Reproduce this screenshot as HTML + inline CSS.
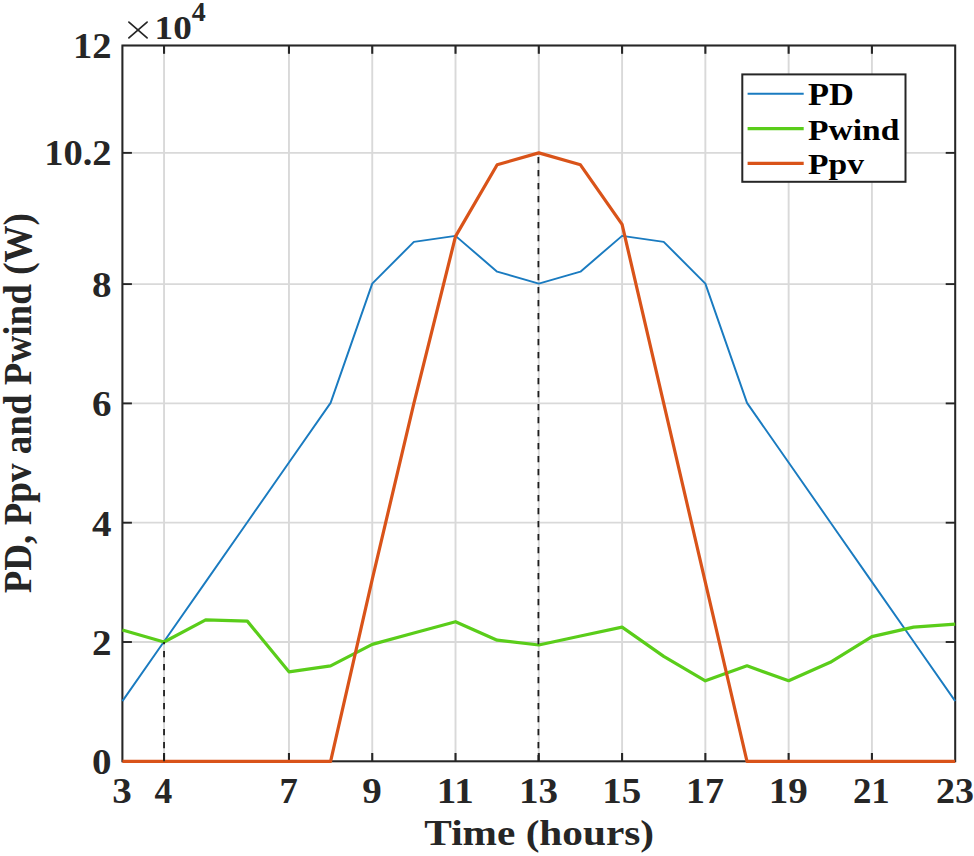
<!DOCTYPE html>
<html><head><meta charset="utf-8"><style>
html,body{margin:0;padding:0;background:#fff;}
body{width:974px;height:856px;position:relative;overflow:hidden;font-family:"Liberation Serif",serif;}
</style></head><body>
<svg width="974" height="856" viewBox="0 0 974 856" style="position:absolute;left:0;top:0">
<line x1="122.40" y1="45.5" x2="122.40" y2="761.3" stroke="#d9d9d9" stroke-width="1.9"/>
<line x1="164.04" y1="45.5" x2="164.04" y2="761.3" stroke="#d9d9d9" stroke-width="1.9"/>
<line x1="288.96" y1="45.5" x2="288.96" y2="761.3" stroke="#d9d9d9" stroke-width="1.9"/>
<line x1="372.24" y1="45.5" x2="372.24" y2="761.3" stroke="#d9d9d9" stroke-width="1.9"/>
<line x1="455.52" y1="45.5" x2="455.52" y2="761.3" stroke="#d9d9d9" stroke-width="1.9"/>
<line x1="538.80" y1="45.5" x2="538.80" y2="761.3" stroke="#d9d9d9" stroke-width="1.9"/>
<line x1="622.08" y1="45.5" x2="622.08" y2="761.3" stroke="#d9d9d9" stroke-width="1.9"/>
<line x1="705.36" y1="45.5" x2="705.36" y2="761.3" stroke="#d9d9d9" stroke-width="1.9"/>
<line x1="788.64" y1="45.5" x2="788.64" y2="761.3" stroke="#d9d9d9" stroke-width="1.9"/>
<line x1="871.92" y1="45.5" x2="871.92" y2="761.3" stroke="#d9d9d9" stroke-width="1.9"/>
<line x1="955.20" y1="45.5" x2="955.20" y2="761.3" stroke="#d9d9d9" stroke-width="1.9"/>
<line x1="122.4" y1="761.30" x2="955.2" y2="761.30" stroke="#d9d9d9" stroke-width="1.8"/>
<line x1="122.4" y1="642.00" x2="955.2" y2="642.00" stroke="#d9d9d9" stroke-width="1.8"/>
<line x1="122.4" y1="522.70" x2="955.2" y2="522.70" stroke="#d9d9d9" stroke-width="1.8"/>
<line x1="122.4" y1="403.40" x2="955.2" y2="403.40" stroke="#d9d9d9" stroke-width="1.8"/>
<line x1="122.4" y1="284.10" x2="955.2" y2="284.10" stroke="#d9d9d9" stroke-width="1.8"/>
<line x1="122.4" y1="152.87" x2="955.2" y2="152.87" stroke="#d9d9d9" stroke-width="1.8"/>
<line x1="122.4" y1="45.50" x2="955.2" y2="45.50" stroke="#d9d9d9" stroke-width="1.8"/>
<line x1="164.04" y1="761.3" x2="164.04" y2="753.0" stroke="#262626" stroke-width="2.1"/>
<line x1="164.04" y1="45.5" x2="164.04" y2="53.8" stroke="#262626" stroke-width="2.1"/>
<line x1="288.96" y1="761.3" x2="288.96" y2="753.0" stroke="#262626" stroke-width="2.1"/>
<line x1="288.96" y1="45.5" x2="288.96" y2="53.8" stroke="#262626" stroke-width="2.1"/>
<line x1="372.24" y1="761.3" x2="372.24" y2="753.0" stroke="#262626" stroke-width="2.1"/>
<line x1="372.24" y1="45.5" x2="372.24" y2="53.8" stroke="#262626" stroke-width="2.1"/>
<line x1="455.52" y1="761.3" x2="455.52" y2="753.0" stroke="#262626" stroke-width="2.1"/>
<line x1="455.52" y1="45.5" x2="455.52" y2="53.8" stroke="#262626" stroke-width="2.1"/>
<line x1="538.80" y1="761.3" x2="538.80" y2="753.0" stroke="#262626" stroke-width="2.1"/>
<line x1="538.80" y1="45.5" x2="538.80" y2="53.8" stroke="#262626" stroke-width="2.1"/>
<line x1="622.08" y1="761.3" x2="622.08" y2="753.0" stroke="#262626" stroke-width="2.1"/>
<line x1="622.08" y1="45.5" x2="622.08" y2="53.8" stroke="#262626" stroke-width="2.1"/>
<line x1="705.36" y1="761.3" x2="705.36" y2="753.0" stroke="#262626" stroke-width="2.1"/>
<line x1="705.36" y1="45.5" x2="705.36" y2="53.8" stroke="#262626" stroke-width="2.1"/>
<line x1="788.64" y1="761.3" x2="788.64" y2="753.0" stroke="#262626" stroke-width="2.1"/>
<line x1="788.64" y1="45.5" x2="788.64" y2="53.8" stroke="#262626" stroke-width="2.1"/>
<line x1="871.92" y1="761.3" x2="871.92" y2="753.0" stroke="#262626" stroke-width="2.1"/>
<line x1="871.92" y1="45.5" x2="871.92" y2="53.8" stroke="#262626" stroke-width="2.1"/>
<line x1="122.4" y1="642.00" x2="131.9" y2="642.00" stroke="#262626" stroke-width="1.9"/>
<line x1="955.2" y1="642.00" x2="945.7" y2="642.00" stroke="#262626" stroke-width="1.9"/>
<line x1="122.4" y1="522.70" x2="131.9" y2="522.70" stroke="#262626" stroke-width="1.9"/>
<line x1="955.2" y1="522.70" x2="945.7" y2="522.70" stroke="#262626" stroke-width="1.9"/>
<line x1="122.4" y1="403.40" x2="131.9" y2="403.40" stroke="#262626" stroke-width="1.9"/>
<line x1="955.2" y1="403.40" x2="945.7" y2="403.40" stroke="#262626" stroke-width="1.9"/>
<line x1="122.4" y1="284.10" x2="131.9" y2="284.10" stroke="#262626" stroke-width="1.9"/>
<line x1="955.2" y1="284.10" x2="945.7" y2="284.10" stroke="#262626" stroke-width="1.9"/>
<line x1="122.4" y1="152.87" x2="131.9" y2="152.87" stroke="#262626" stroke-width="1.9"/>
<line x1="955.2" y1="152.87" x2="945.7" y2="152.87" stroke="#262626" stroke-width="1.9"/>
<rect x="122.4" y="45.5" width="832.80" height="715.80" fill="none" stroke="#262626" stroke-width="2"/>
<polyline points="122.40,701.65 164.04,642.00 205.68,582.35 247.32,522.70 288.96,463.05 330.60,403.40 372.24,284.10 413.88,242.35 455.52,236.38 497.16,272.17 538.80,284.10 580.44,272.17 622.08,236.38 663.72,242.35 705.36,284.10 747.00,403.40 788.64,463.05 830.28,522.70 871.92,582.35 913.56,642.00 955.20,701.65" fill="none" stroke="#1a7bc0" stroke-width="1.95" stroke-linejoin="round" transform="translate(0,-0.5)"/>
<polyline points="122.40,630.07 164.04,642.00 205.68,619.93 247.32,621.12 288.96,671.82 330.60,665.86 372.24,644.39 413.88,633.05 455.52,621.72 497.16,640.21 538.80,644.98 580.44,636.03 622.08,627.09 663.72,656.32 705.36,680.77 747.00,665.86 788.64,680.77 830.28,662.28 871.92,636.63 913.56,627.09 955.20,624.11" fill="none" stroke="#5acd1a" stroke-width="3.2" stroke-linejoin="round"/>
<polyline points="122.40,761.30 164.04,761.30 205.68,761.30 247.32,761.30 288.96,761.30 330.60,761.30 372.24,579.37 413.88,403.40 455.52,236.38 497.16,164.80 538.80,152.87 580.44,164.80 622.08,224.45 663.72,403.40 705.36,582.35 747.00,761.30 788.64,761.30 830.28,761.30 871.92,761.30 913.56,761.30 955.20,761.30" fill="none" stroke="#d95319" stroke-width="3.2" stroke-linejoin="round"/>
<line x1="164.04" y1="761.3" x2="164.04" y2="642.00" stroke="#1e1e1e" stroke-width="1.8" stroke-dasharray="6.3 6.7"/>
<line x1="538.40" y1="761.3" x2="538.40" y2="152.87" stroke="#1e1e1e" stroke-width="1.8" stroke-dasharray="6.3 6.7"/>
<text transform="translate(111.60,774.20) scale(1.1,1)" font-family="Liberation Serif" font-weight="bold" font-size="35.5" fill="#262626" text-anchor="end">0</text>
<text transform="translate(111.60,654.90) scale(1.1,1)" font-family="Liberation Serif" font-weight="bold" font-size="35.5" fill="#262626" text-anchor="end">2</text>
<text transform="translate(111.60,535.60) scale(1.1,1)" font-family="Liberation Serif" font-weight="bold" font-size="35.5" fill="#262626" text-anchor="end">4</text>
<text transform="translate(111.60,416.30) scale(1.1,1)" font-family="Liberation Serif" font-weight="bold" font-size="35.5" fill="#262626" text-anchor="end">6</text>
<text transform="translate(111.60,297.00) scale(1.1,1)" font-family="Liberation Serif" font-weight="bold" font-size="35.5" fill="#262626" text-anchor="end">8</text>
<text transform="translate(111.60,165.17) scale(1.085,1)" font-family="Liberation Serif" font-weight="bold" font-size="35.5" fill="#262626" text-anchor="end">10.2</text>
<text transform="translate(111.60,58.40) scale(1.087,1)" font-family="Liberation Serif" font-weight="bold" font-size="35.5" fill="#262626" text-anchor="end">12</text>
<text transform="translate(122.10,802.70) scale(1.1,1)" font-family="Liberation Serif" font-weight="bold" font-size="35.5" fill="#262626" text-anchor="middle">3</text>
<text transform="translate(163.44,802.70) scale(1.0,1)" font-family="Liberation Serif" font-weight="bold" font-size="35.5" fill="#262626" text-anchor="middle">4</text>
<text transform="translate(288.66,802.70) scale(1.03,1)" font-family="Liberation Serif" font-weight="bold" font-size="35.5" fill="#262626" text-anchor="middle">7</text>
<text transform="translate(371.94,802.70) scale(1.1,1)" font-family="Liberation Serif" font-weight="bold" font-size="35.5" fill="#262626" text-anchor="middle">9</text>
<text transform="translate(455.22,802.70) scale(1.1,1)" font-family="Liberation Serif" font-weight="bold" font-size="35.5" fill="#262626" text-anchor="middle">11</text>
<text transform="translate(538.50,802.70) scale(1.1,1)" font-family="Liberation Serif" font-weight="bold" font-size="35.5" fill="#262626" text-anchor="middle">13</text>
<text transform="translate(621.78,802.70) scale(1.1,1)" font-family="Liberation Serif" font-weight="bold" font-size="35.5" fill="#262626" text-anchor="middle">15</text>
<text transform="translate(705.06,802.70) scale(1.07,1)" font-family="Liberation Serif" font-weight="bold" font-size="35.5" fill="#262626" text-anchor="middle">17</text>
<text transform="translate(788.34,802.70) scale(1.1,1)" font-family="Liberation Serif" font-weight="bold" font-size="35.5" fill="#262626" text-anchor="middle">19</text>
<text transform="translate(871.32,802.70) scale(1.04,1)" font-family="Liberation Serif" font-weight="bold" font-size="35.5" fill="#262626" text-anchor="middle">21</text>
<text transform="translate(954.90,802.70) scale(1.07,1)" font-family="Liberation Serif" font-weight="bold" font-size="35.5" fill="#262626" text-anchor="middle">23</text>
<line x1="128.9" y1="22.1" x2="147.1" y2="37.9" stroke="#262626" stroke-width="1.7" stroke-linecap="round"/>
<line x1="147.1" y1="22.1" x2="128.9" y2="37.9" stroke="#262626" stroke-width="1.7" stroke-linecap="round"/>
<text transform="translate(154.60,38.90) scale(1.1,1)" font-family="Liberation Serif" font-weight="bold" font-size="33.8" fill="#262626" text-anchor="start">10</text>
<text transform="translate(191.70,21.30) scale(1.062,1)" font-family="Liberation Serif" font-weight="bold" font-size="26.4" fill="#262626" text-anchor="start">4</text>
<text transform="translate(539.20,844.50) scale(1.128,1)" font-family="Liberation Serif" font-weight="bold" font-size="36.6" fill="#262626" text-anchor="middle">Time (hours)</text>
<text transform="translate(31.00,403.20) rotate(-90) scale(1,1.106)" font-family="Liberation Serif" font-weight="bold" font-size="37.1" fill="#262626" text-anchor="middle">PD, Ppv and Pwind (W)</text>
<rect x="742.3" y="74.4" width="163.2" height="107.4" fill="#fff" stroke="#262626" stroke-width="2"/>
<line x1="747.6" y1="93.8" x2="803.7" y2="93.8" stroke="#1a7bc0" stroke-width="1.95"/>
<line x1="747.6" y1="128.6" x2="803.7" y2="128.6" stroke="#5acd1a" stroke-width="3.2"/>
<line x1="747.6" y1="163.3" x2="803.7" y2="163.3" stroke="#d95319" stroke-width="3.2"/>
<text transform="translate(808.00,104.80) scale(1.076,1)" font-family="Liberation Serif" font-weight="bold" font-size="32" fill="#000" text-anchor="start">PD</text>
<text transform="translate(808.00,139.60) scale(1.1,1)" font-family="Liberation Serif" font-weight="bold" font-size="30.5" fill="#000" text-anchor="start">Pwind</text>
<text transform="translate(808.00,173.80) scale(1.1,1)" font-family="Liberation Serif" font-weight="bold" font-size="30.5" fill="#000" text-anchor="start">Ppv</text>
</svg>
</body></html>
